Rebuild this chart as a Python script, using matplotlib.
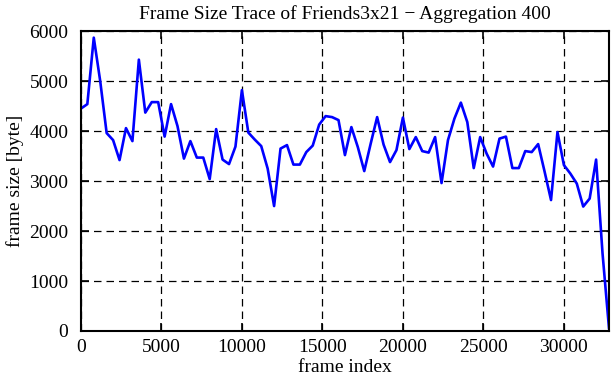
import numpy as np
import matplotlib
matplotlib.use("Agg")
import matplotlib.pyplot as plt

# aggregation window of 400 frames
agg = 400
frame_size = [4450, 4540, 5870, 5000, 3960, 3820, 3420, 4060, 3800, 5430,
              4370, 4580, 4580, 3890, 4540, 4100, 3450, 3800, 3470, 3470,
              3040, 4040, 3430, 3340, 3690, 4820, 3970, 3830, 3700, 3250,
              2500, 3650, 3720, 3330, 3330, 3580, 3710, 4130, 4300, 4280,
              4220, 3520, 4080, 3680, 3200, 3750, 4280, 3730, 3380, 3620,
              4270, 3640, 3880, 3600, 3570, 3880, 2960, 3820, 4250, 4570,
              4180, 3260, 3880, 3550, 3290, 3850, 3890, 3260, 3260, 3600,
              3580, 3740, 3190, 2620, 3980, 3320, 3150, 2950, 2490, 2650,
              3430, 1550, 60]
frame_index = np.arange(len(frame_size)) * agg

xticks = [0, 5000, 10000, 15000, 20000, 25000, 30000]
yticks = [0, 1000, 2000, 3000, 4000, 5000, 6000]

plt.rcParams['font.family'] = ['Liberation Serif', 'DejaVu Serif']
plt.rcParams['font.size'] = 14

fig = plt.figure(figsize=(6.11, 3.80), dpi=100)
ax = fig.add_axes([0.1324, 0.129, 0.8643, 0.789])

ax.plot(frame_index, frame_size, color='#0000ff', lw=1.9)

ax.set_xlim(0, frame_index[-1])
ax.set_ylim(0, 6000)
ax.set_xticks(xticks)
ax.set_yticks(yticks)
ax.grid(True, color='black', ls=(0, (6, 4)), lw=0.9)
ax.tick_params(direction='in', length=6, width=1.2, top=True, right=True,
               labelsize=14)
ax.tick_params(axis='x', pad=6)
ax.tick_params(axis='y', pad=9)
for s in ax.spines.values():
    s.set_linewidth(1.5)

ax.set_title('Frame Size Trace of Friends3x21 \u2212 Aggregation 400',
             fontsize=14, pad=9)
ax.set_xlabel('frame index', fontsize=14, labelpad=2)
ax.set_ylabel('frame size [byte]', fontsize=14, labelpad=4)

fig.savefig('out.png', dpi=100)
